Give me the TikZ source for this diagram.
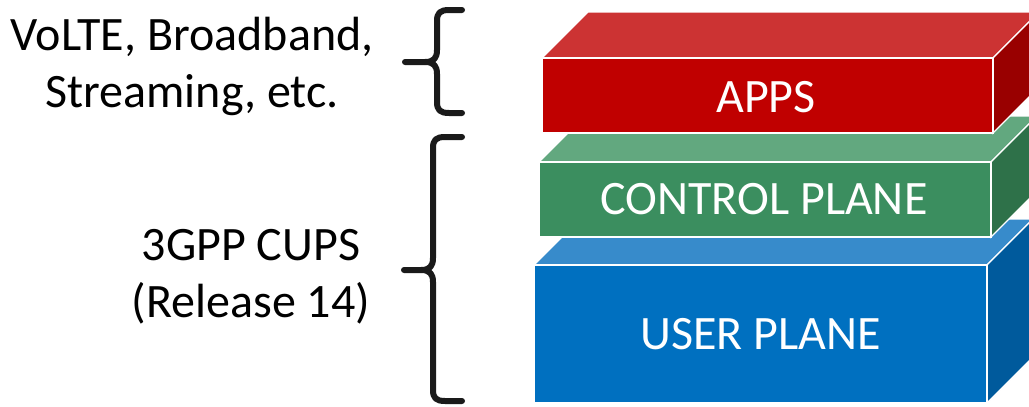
\documentclass[tikz,border=0pt]{standalone}
\usepackage{fontspec}
\setmainfont{Carlito}
\definecolor{redfront}{HTML}{C00000}
\definecolor{redtop}{HTML}{CC3333}
\definecolor{redside}{HTML}{990000}
\definecolor{greenfront}{HTML}{3B8E5F}
\definecolor{greentop}{HTML}{62A87F}
\definecolor{greenside}{HTML}{2E7149}
\definecolor{bluefront}{HTML}{0070C0}
\definecolor{bluetop}{HTML}{378BCB}
\definecolor{blueside}{HTML}{005A9C}
\definecolor{bracecol}{HTML}{1A1A1A}
\begin{document}
\begin{tikzpicture}[x=1pt,y=-1pt,
  face/.style={draw=white,line width=1.3pt,line join=miter},
  layerlabel/.style={text=white,font=\fontsize{48}{58}\selectfont,inner sep=0pt},
  sidelabel/.style={text=black,font=\fontsize{48}{58}\selectfont,inner sep=0pt,anchor=base},
  bracepath/.style={draw=bracecol,line width=6pt,line cap=round,line join=round}]
\useasboundingbox (0,0) rectangle (1029,407);
\clip (0,0) rectangle (1029,407);
% layer: user plane (bottom)
\fill[bluetop,face] (534,265) -- (580,219) -- (1033,219) -- (987,265) -- cycle;
\fill[blueside,face] (987,265) -- (1033,219) -- (1033,357) -- (987,403) -- cycle;
\fill[bluefront,face] (534,265) rectangle (987,403);
\node[layerlabel] (user) at (760.5,334) {USER PLANE};
% layer: control plane
\fill[greentop,face] (539,162) -- (585,116) -- (1037,116) -- (991,162) -- cycle;
\fill[greenside,face] (991,162) -- (1037,116) -- (1037,191) -- (991,237) -- cycle;
\fill[greenfront,face] (539,162) rectangle (991,237);
\node[layerlabel] (control) at (764,199.5) {CONTROL PLANE};
% layer: apps (top)
\fill[redtop,face] (542,58) -- (588,12) -- (1039,12) -- (993,58) -- cycle;
\fill[redside,face] (993,58) -- (1039,12) -- (1039,87) -- (993,133) -- cycle;
\fill[redfront,face] (542,58) rectangle (993,133);
\node[layerlabel] (apps) at (766,97) {APPS};
% captions on the left
\node[sidelabel] (svc1) at (192,50) {VoLTE, Broadband,};
\node[sidelabel] (svc2) at (192,107) {Streaming, etc.};
\node[sidelabel] (cups1) at (251,260) {3GPP CUPS};
\node[sidelabel] (cups2) at (251,317) {(Release 14)};
% braces
\draw[bracepath] (462,10) -- (449,10) .. controls (440,10) and (437,13) .. (437,21) -- (437,50)
  .. controls (437,58) and (434,62) .. (425,62) -- (405,62);
\draw[bracepath] (425,62) .. controls (434,62) and (437,66) .. (437,74) -- (437,102)
  .. controls (437,110) and (440,113) .. (449,113) -- (462,113);
\draw[bracepath] (462,137) -- (445,137) .. controls (436,137) and (433,140) .. (433,148) -- (433,258)
  .. controls (433,266) and (430,270) .. (421,270) -- (404,270);
\draw[bracepath] (421,270) .. controls (430,270) and (433,274) .. (433,282) -- (433,390)
  .. controls (433,398) and (436,401) .. (445,401) -- (462,401);
\end{tikzpicture}
\end{document}
